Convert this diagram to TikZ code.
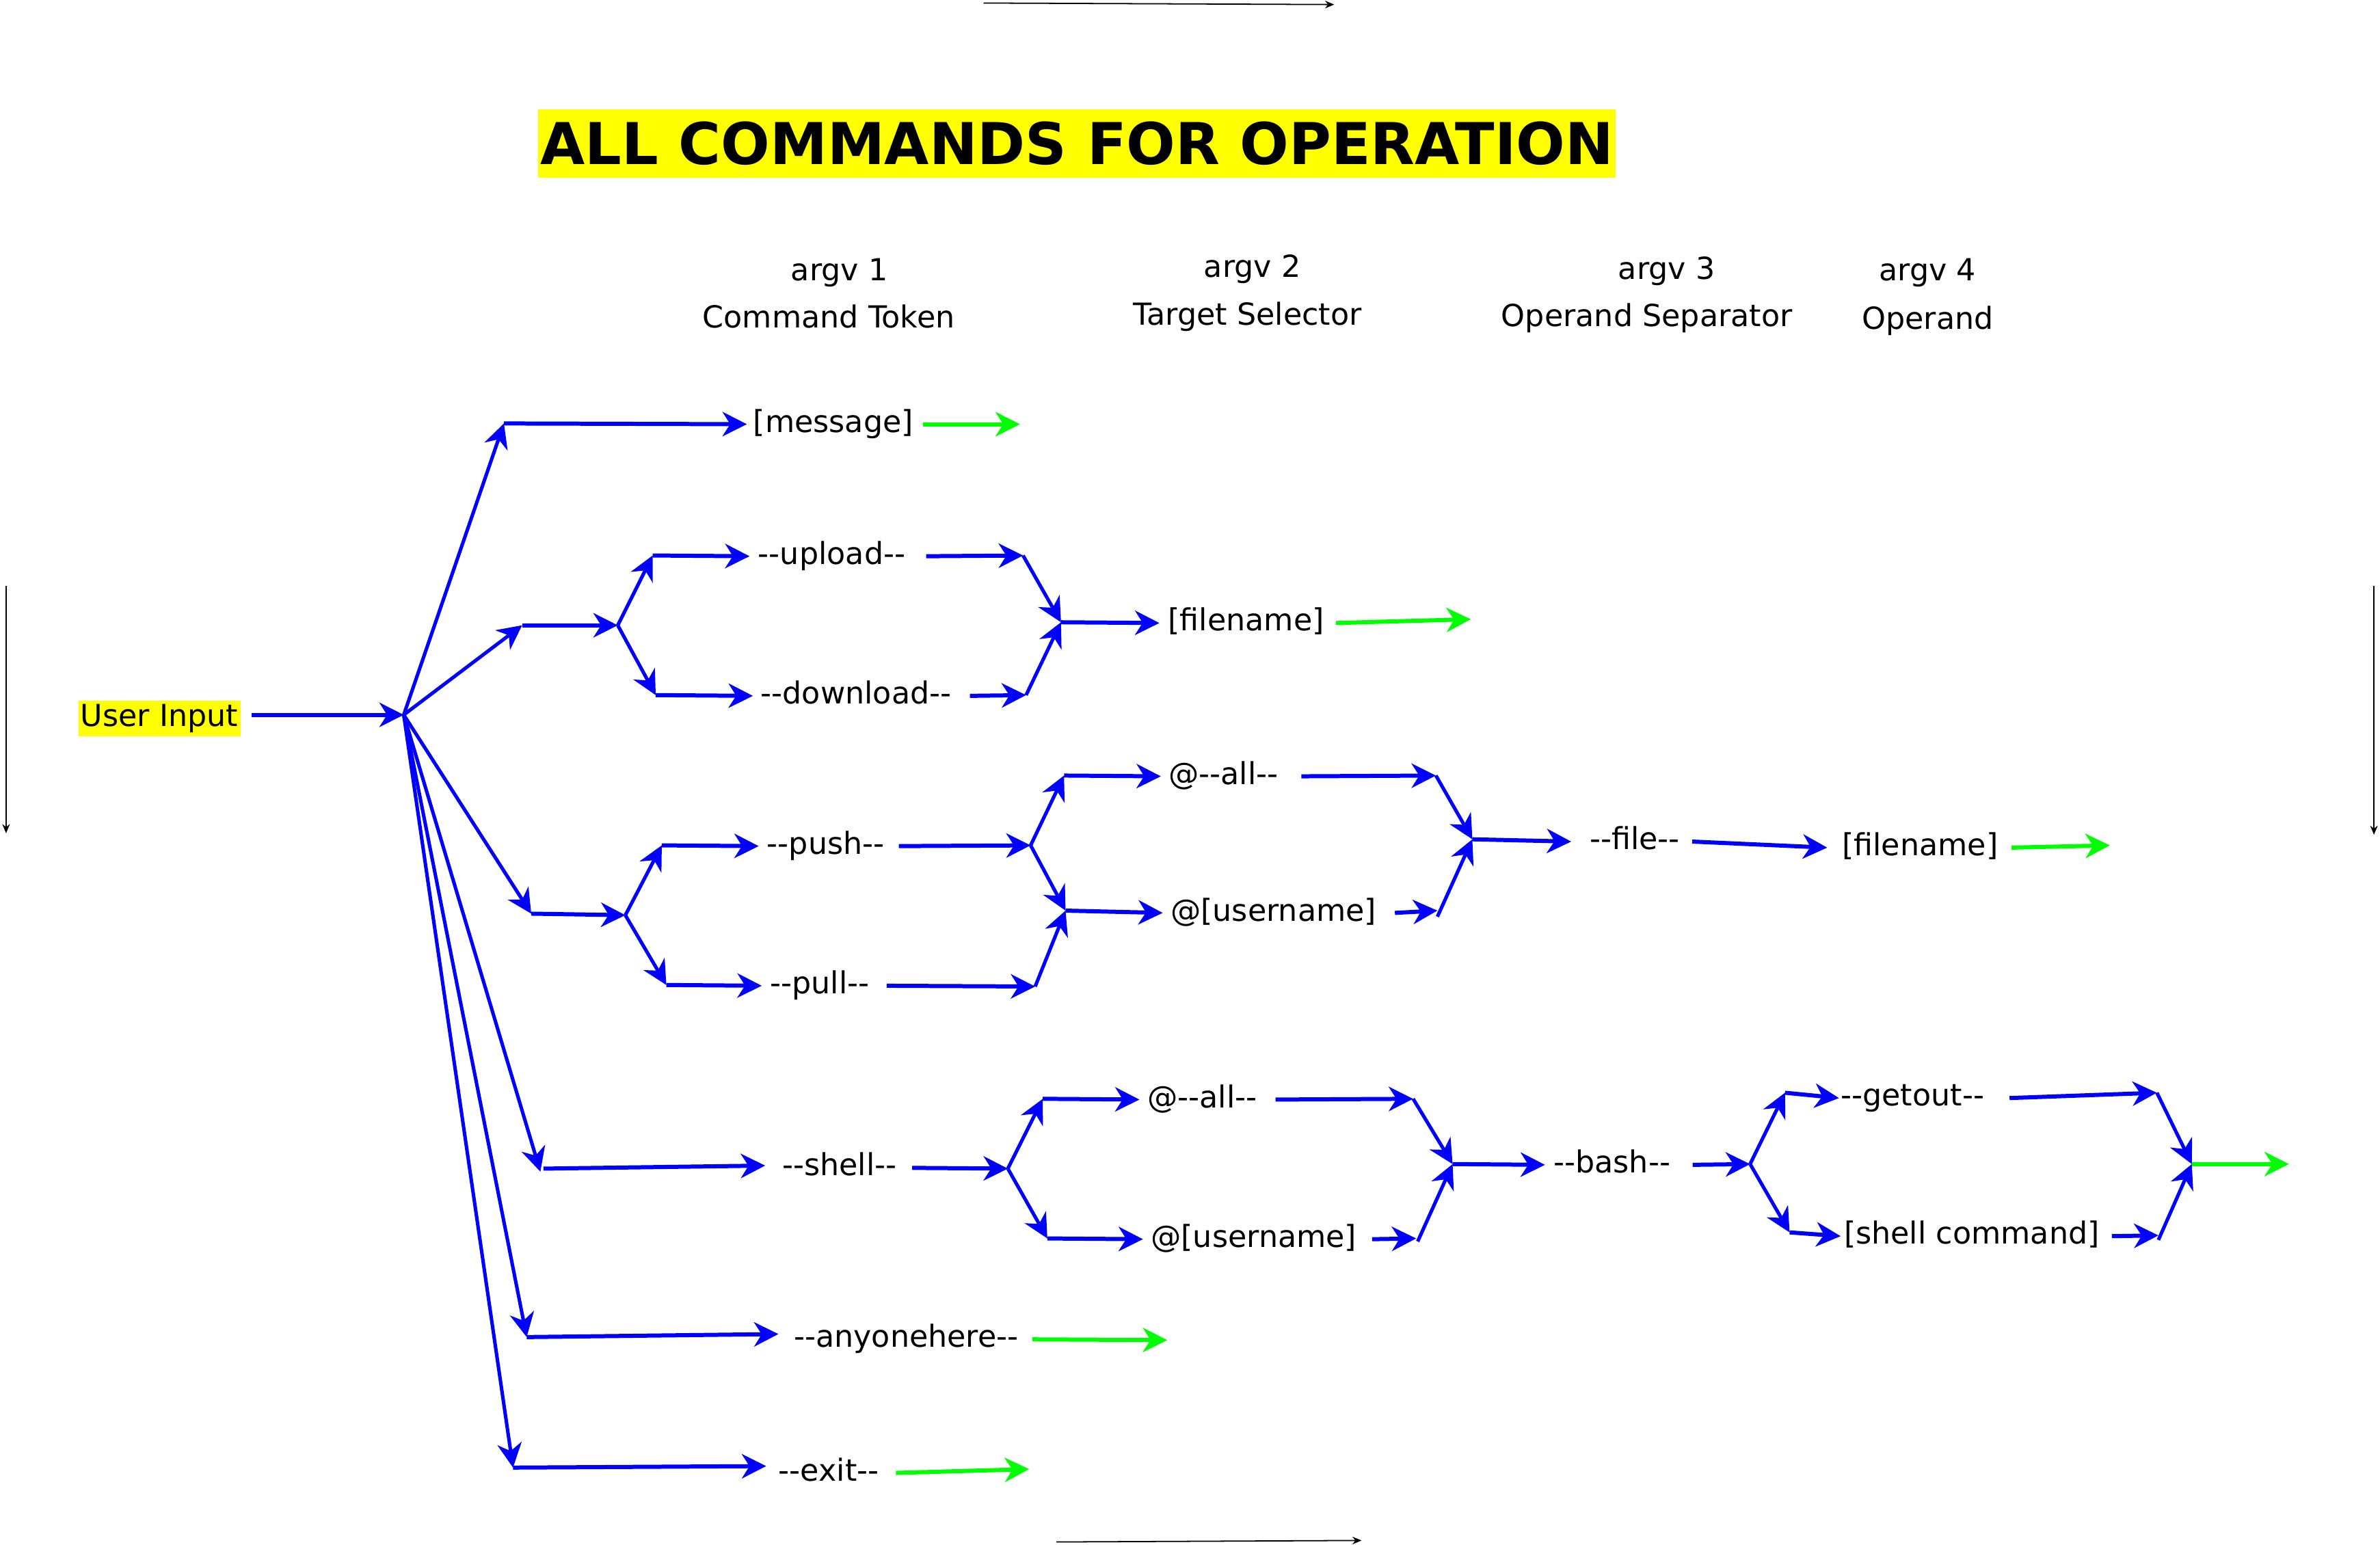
\documentclass[tikz,border=0pt]{standalone}
\usepackage{fontspec}
\setmainfont{DejaVu Sans}
\usetikzlibrary{arrows.meta}
\definecolor{pblue}{RGB}{0,0,255}
\definecolor{pgreen}{RGB}{0,255,0}
\definecolor{pyellow}{RGB}{255,255,0}
\newcommand{\dd}{-{}-}
\tikzset{
  tipb/.tip={Stealth[length=16pt,width=16pt,inset=5pt]},
  ba/.style={draw=pblue, line width=2.7pt, -tipb},
  bd/.style={draw=pblue, line width=2.3pt, -tipb},
  ga/.style={draw=pgreen, line width=2.7pt, -tipb},
  ka/.style={draw=black, line width=0.8pt, -{Stealth[length=6pt,width=5pt]}},
  lbl/.style={inner sep=0pt, font=\fontsize{20}{24}\selectfont, text height=15pt, text depth=4.5pt, yshift=-1.5pt},
  hdr/.style={inner sep=0pt, font=\fontsize{20}{24}\selectfont, yshift=-1.5pt},
}
\begin{document}
\begin{tikzpicture}[x=1pt,y=-1pt]
\useasboundingbox (0,0) rectangle (1568,1018);

% frame arrows
\coordinate (t1) at (648,2);   \coordinate (t2) at (879,3);
\coordinate (u1) at (696,1016);\coordinate (u2) at (897,1015);
\coordinate (l1) at (4,386);   \coordinate (l2) at (4,549);
\coordinate (r1x) at (1564,386);\coordinate (r2x) at (1564,550);
\draw[ka] (t1) -- (t2);
\draw[ka] (u1) -- (u2);
\draw[ka] (l1) -- (l2);
\draw[ka] (r1x) -- (r2x);

% title
\node[fill=pyellow, inner xsep=1.5pt, inner ysep=3.5pt, font=\bfseries\fontsize{38}{44}\selectfont, text height=33pt, text depth=5pt] (title) at (709.5,94.5) {ALL COMMANDS FOR OPERATION};

% headers
\node[hdr] (a1) at (553,178) {argv 1};
\node[hdr] (a1b) at (546,207) {Command Token};
\node[hdr] (a2) at (825,176) {argv 2};
\node[hdr] (a2b) at (822,207) {Target Selector};
\node[hdr] (a3) at (1098,177) {argv 3};
\node[hdr] (a3b) at (1085,208) {Operand Separator};
\node[hdr] (a4) at (1270,178) {argv 4};
\node[hdr] (a4b) at (1270,210) {Operand};

% text nodes
\node[lbl, fill=pyellow, inner xsep=1.5pt, inner ysep=2pt] (ui) at (105,472) {User Input};
\node[lbl] (msg) at (549,278) {[message]};
\node[lbl] (up) at (548,365) {\dd upload\dd};
\node[lbl] (dn) at (564,457) {\dd download\dd};
\node[lbl] (fn1) at (821,409) {[filename]};
\node[lbl] (push) at (544,556) {\dd push\dd};
\node[lbl] (pull) at (540,648) {\dd pull\dd};
\node[lbl] (all1) at (806,510) {@\dd all\dd};
\node[lbl] (usr1) at (839,600) {@[username]};
\node[lbl] (file) at (1077,553) {\dd file\dd};
\node[lbl] (fn2) at (1265,557) {[filename]};
\node[lbl] (shell) at (553,768) {\dd shell\dd};
\node[lbl] (all2) at (792,723) {@\dd all\dd};
\node[lbl] (usr2) at (826,815) {@[username]};
\node[lbl] (bash) at (1062,766) {\dd bash\dd};
\node[lbl] (getout) at (1260,722) {\dd getout\dd};
\node[lbl] (shcmd) at (1299,813) {[shell command]};
\node[lbl] (any) at (597,881) {\dd anyonehere\dd};
\node[lbl] (exit) at (546,969) {\dd exit\dd};

% junction coordinates
\coordinate (hub) at (266,471);
\coordinate (h1) at (332,279);
\coordinate (h2) at (344,412);
\coordinate (b1) at (407,412);
\coordinate (p1u) at (430,366);
\coordinate (p1d) at (432,458);
\coordinate (c1) at (674,366);
\coordinate (c2) at (676,458);
\coordinate (j1) at (699,410);
\coordinate (g1) at (969,408);

\coordinate (h3) at (350,602);
\coordinate (b2) at (412,603);
\coordinate (p2u) at (436,557);
\coordinate (p2d) at (439,649);
\coordinate (b3) at (679,557);
\coordinate (q1) at (701,511);
\coordinate (q2) at (702,600);
\coordinate (c3) at (682,650);
\coordinate (c4) at (946,511);
\coordinate (c5) at (947,600);
\coordinate (c5b) at (947,604);
\coordinate (j2) at (970,553);
\coordinate (g2) at (1390,557);

\coordinate (h4) at (356,772);
\coordinate (b4) at (664,770);
\coordinate (r1) at (687,724);
\coordinate (r2) at (690,816);
\coordinate (c6) at (931,724);
\coordinate (c7) at (933,816);
\coordinate (c7b) at (934,818);
\coordinate (j3) at (957,767);
\coordinate (b5) at (1153,767);
\coordinate (s1) at (1176,720);
\coordinate (s2) at (1179,812);
\coordinate (c8) at (1421,720);
\coordinate (c9) at (1422,814);
\coordinate (c9b) at (1422,817);
\coordinate (j4) at (1444,767);
\coordinate (g3) at (1508,767);

\coordinate (h5) at (347,881);
\coordinate (g4) at (769,883);
\coordinate (h6) at (338,967);
\coordinate (g5) at (678,968);

% user input to hub
\draw[ba] ([xshift=7pt,yshift=2.5pt]ui.east) -- (hub);

% fan-out from hub
\draw[bd] (hub) -- (h1);
\draw[bd] (hub) -- (h2);
\draw[bd] (hub) -- (h3);
\draw[bd] (hub) -- (h4);
\draw[bd] (hub) -- (h5);
\draw[bd] (hub) -- (h6);

% message
\draw[ba] (h1) -- ([xshift=-4pt]msg.west);
\draw[ga] ([xshift=6pt]msg.east) -- +(64,0);

% upload / download
\draw[ba] (h2) -- (b1);
\draw[bd] (b1) -- (p1u);
\draw[bd] (b1) -- (p1d);
\draw[ba] (p1u) -- ([xshift=-5.5pt]up.west);
\draw[ba] (p1d) -- ([xshift=-5pt]dn.west);
\draw[ba] ([xshift=13.5pt]up.east) -- (c1);
\draw[ba] ([xshift=12pt]dn.east) -- (c2);
\draw[bd] (c1) -- (j1);
\draw[bd] (c2) -- (j1);
\draw[ba] (j1) -- ([xshift=-5.6pt]fn1.west);
\draw[ga] ([xshift=7.6pt]fn1.east) -- (g1);

% push / pull
\draw[ba] (h3) -- (b2);
\draw[bd] (b2) -- (p2u);
\draw[bd] (b2) -- (p2d);
\draw[ba] (p2u) -- ([xshift=-5.3pt]push.west);
\draw[ba] (p2d) -- ([xshift=-5.3pt]pull.west);
\draw[ba] ([xshift=9.3pt]push.east) -- (b3);
\draw[ba] ([xshift=11.3pt]pull.east) -- (c3);
\draw[bd] (b3) -- (q1);
\draw[bd] (b3) -- (q2);
\draw[bd] (c3) -- (q2);
\draw[ba] (q1) -- ([xshift=-4.9pt]all1.west);
\draw[ba] (q2) -- ([xshift=-5pt]usr1.west);
\draw[ba] ([xshift=15pt]all1.east) -- (c4);
\draw[ba] ([xshift=12pt]usr1.east) -- (c5);
\draw[bd] (c4) -- (j2);
\draw[bd] (c5b) -- (j2);
\draw[ba] (j2) -- ([xshift=-12pt]file.west);
\draw[ba] ([xshift=8pt]file.east) -- ([xshift=-9.6pt]fn2.west);
\draw[ga] ([xshift=8.6pt]fn2.east) -- (g2);

% shell
\draw[ba] ([xshift=2pt,yshift=2pt]h4) -- ([xshift=-11pt,yshift=1.5pt]shell.west);
\draw[ba] ([xshift=10pt]shell.east) -- (b4);
\draw[bd] (b4) -- (r1);
\draw[bd] (b4) -- (r2);
\draw[ba] (r1) -- ([xshift=-5pt]all2.west);
\draw[ba] (r2) -- ([xshift=-5pt]usr2.west);
\draw[ba] ([xshift=12pt]all2.east) -- (c6);
\draw[ba] ([xshift=10pt]usr2.east) -- (c7);
\draw[bd] (c6) -- (j3);
\draw[bd] (c7b) -- (j3);
\draw[ba] (j3) -- ([xshift=-5.5pt]bash.west);
\draw[ba] ([xshift=14.5pt]bash.east) -- (b5);
\draw[bd] (b5) -- (s1);
\draw[bd] (b5) -- (s2);
\draw[ba] (s1) -- ([xshift=-1pt]getout.west);
\draw[ba] (s2) -- ([xshift=-2pt]shcmd.west);
\draw[ba] ([xshift=16.5pt]getout.east) -- (c8);
\draw[ba] ([xshift=8pt]shcmd.east) -- (c9);
\draw[bd] (c8) -- (j4);
\draw[bd] (c9b) -- (j4);
\draw[ga] (j4) -- (g3);

% anyonehere / exit
\draw[ba] (h5) -- ([xshift=-10pt,yshift=3.5pt]any.west);
\draw[ga] ([xshift=9pt]any.east) -- (g4);
\draw[ba] (h6) -- ([xshift=-8pt,yshift=4.5pt]exit.west);
\draw[ga] ([xshift=11pt]exit.east) -- (g5);
\end{tikzpicture}
\end{document}
